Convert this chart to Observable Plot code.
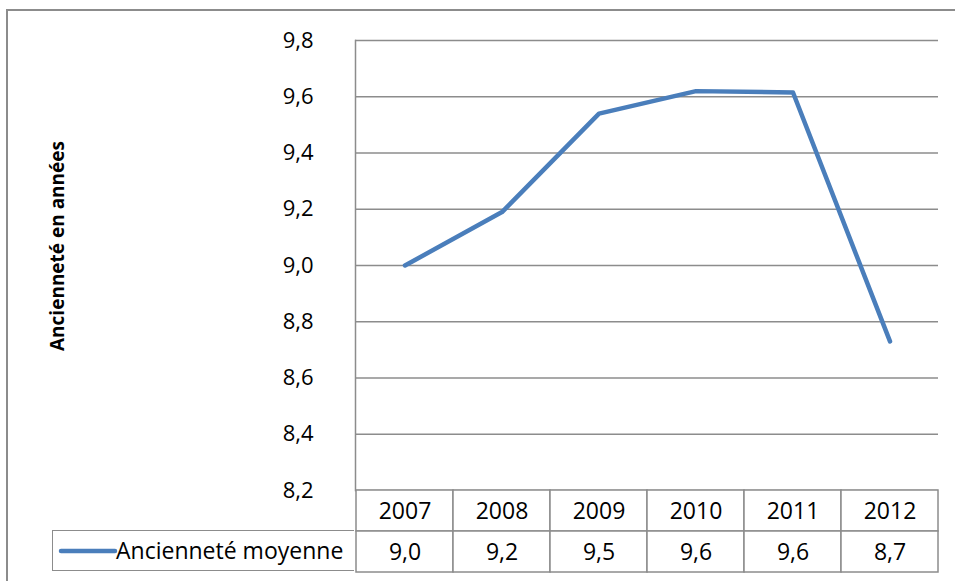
<!DOCTYPE html>
<html>
<head>
<meta charset="utf-8">
<script src="https://cdn.jsdelivr.net/npm/d3@7"></script>
<script src="https://cdn.jsdelivr.net/npm/@observablehq/plot@0.6"></script>
<style>
  html, body { margin: 0; padding: 0; background: #fff; }
  #root { position: relative; width: 955px; height: 581px; overflow: hidden; font-family: "Open Sans", sans-serif; }
  #border { position: absolute; left: 6px; top: 9px; width: 1000px; height: 1000px; border-left: 2px solid #8c8c8c; border-top: 2px solid #8c8c8c; }
  #chart { position: absolute; left: 0; top: 0; }
  #table { position: absolute; left: 0; top: 489px; }
  #legendCell { position: absolute; left: 52px; top: 530px; width: 302px; height: 41px; border: 1.5px solid #8c8c8c; border-right: none; box-sizing: border-box; }
  #legendCell svg { position: absolute; left: 4px; top: 0; }
  #legendCell span { position: absolute; left: 63px; top: 4px; font-size: 23px; color: #000; white-space: nowrap; line-height: 30px; }
  #ytitle { position: absolute; left: 57px; top: 246px; transform: translate(-50%, -50%) rotate(-90deg); font-size: 19px; font-weight: bold; white-space: nowrap; color: #000; }
</style>
</head>
<body>
<div id="root">
  <div id="border"></div>
  <div id="chart"></div>
  <div id="table"></div>
  <div id="legendCell"></div>
  <div id="ytitle"></div>
</div>
<script>
const years = ["2007", "2008", "2009", "2010", "2011", "2012"];
const values = [9.00, 9.19, 9.54, 9.62, 9.615, 8.73];
const seriesName = "Ancienneté moyenne";
const yTitle = "Ancienneté en années";
const yTicks = [8.2, 8.4, 8.6, 8.8, 9.0, 9.2, 9.4, 9.6, 9.8];
const rows = ["annee", "valeur"];

const lineColor = "#4a7ebb";
const gridColor = "#8c8c8c";
const fmt = v => d3.format(".1f")(v).replace(".", ",");

const data = years.map((y, i) => ({year: y, value: values[i]}));

const W = 955, ML = 355, MR = 17;

const chart = Plot.plot({
  width: W,
  height: 490,
  marginLeft: ML,
  marginRight: MR,
  marginTop: 40,
  marginBottom: 0,
  style: {fontFamily: "Open Sans, sans-serif", fontSize: "22px", color: "#000", background: "transparent", overflow: "visible"},
  x: {type: "band", domain: years, padding: 0, axis: null},
  y: {domain: [8.2, 9.8], axis: null},
  marks: [
    Plot.gridY(yTicks, {stroke: gridColor, strokeOpacity: 1, strokeWidth: 1.5}),
    Plot.frame({anchor: "left", stroke: gridColor, strokeWidth: 1.5}),
    Plot.axisY(yTicks, {tickSize: 0, tickPadding: 42, tickFormat: fmt, fontSize: 22, label: null}),
    Plot.line(data, {x: "year", y: "value", stroke: lineColor, strokeWidth: 4.5, strokeLinecap: "round", strokeLinejoin: "round"})
  ]
});
document.getElementById("chart").appendChild(chart);

const cells = [];
years.forEach((y, i) => {
  cells.push({year: y, row: "annee", label: y});
  cells.push({year: y, row: "valeur", label: fmt(values[i])});
});

const table = Plot.plot({
  width: W,
  height: 84,
  marginLeft: ML,
  marginRight: MR,
  marginTop: 1,
  marginBottom: 1,
  style: {fontFamily: "Open Sans, sans-serif", fontSize: "23px", color: "#000", background: "transparent", overflow: "visible"},
  x: {type: "band", domain: years, padding: 0, axis: null},
  y: {type: "band", domain: rows, padding: 0, axis: null},
  marks: [
    Plot.cell(cells, {x: "year", y: "row", fill: "white", stroke: gridColor, strokeWidth: 1.5}),
    Plot.text(cells, {x: "year", y: "row", text: "label", fontSize: 23, fill: "#000", dy: 1})
  ]
});
document.getElementById("table").appendChild(table);

// legend row header
const leg = document.getElementById("legendCell");
const sw = d3.create("svg").attr("width", 62).attr("height", 40);
sw.append("line").attr("x1", 4).attr("x2", 58).attr("y1", 20).attr("y2", 20)
  .attr("stroke", lineColor).attr("stroke-width", 4.5).attr("stroke-linecap", "round");
leg.appendChild(sw.node());
const span = document.createElement("span");
span.textContent = seriesName;
leg.appendChild(span);

document.getElementById("ytitle").textContent = yTitle;
</script>
</body>
</html>
